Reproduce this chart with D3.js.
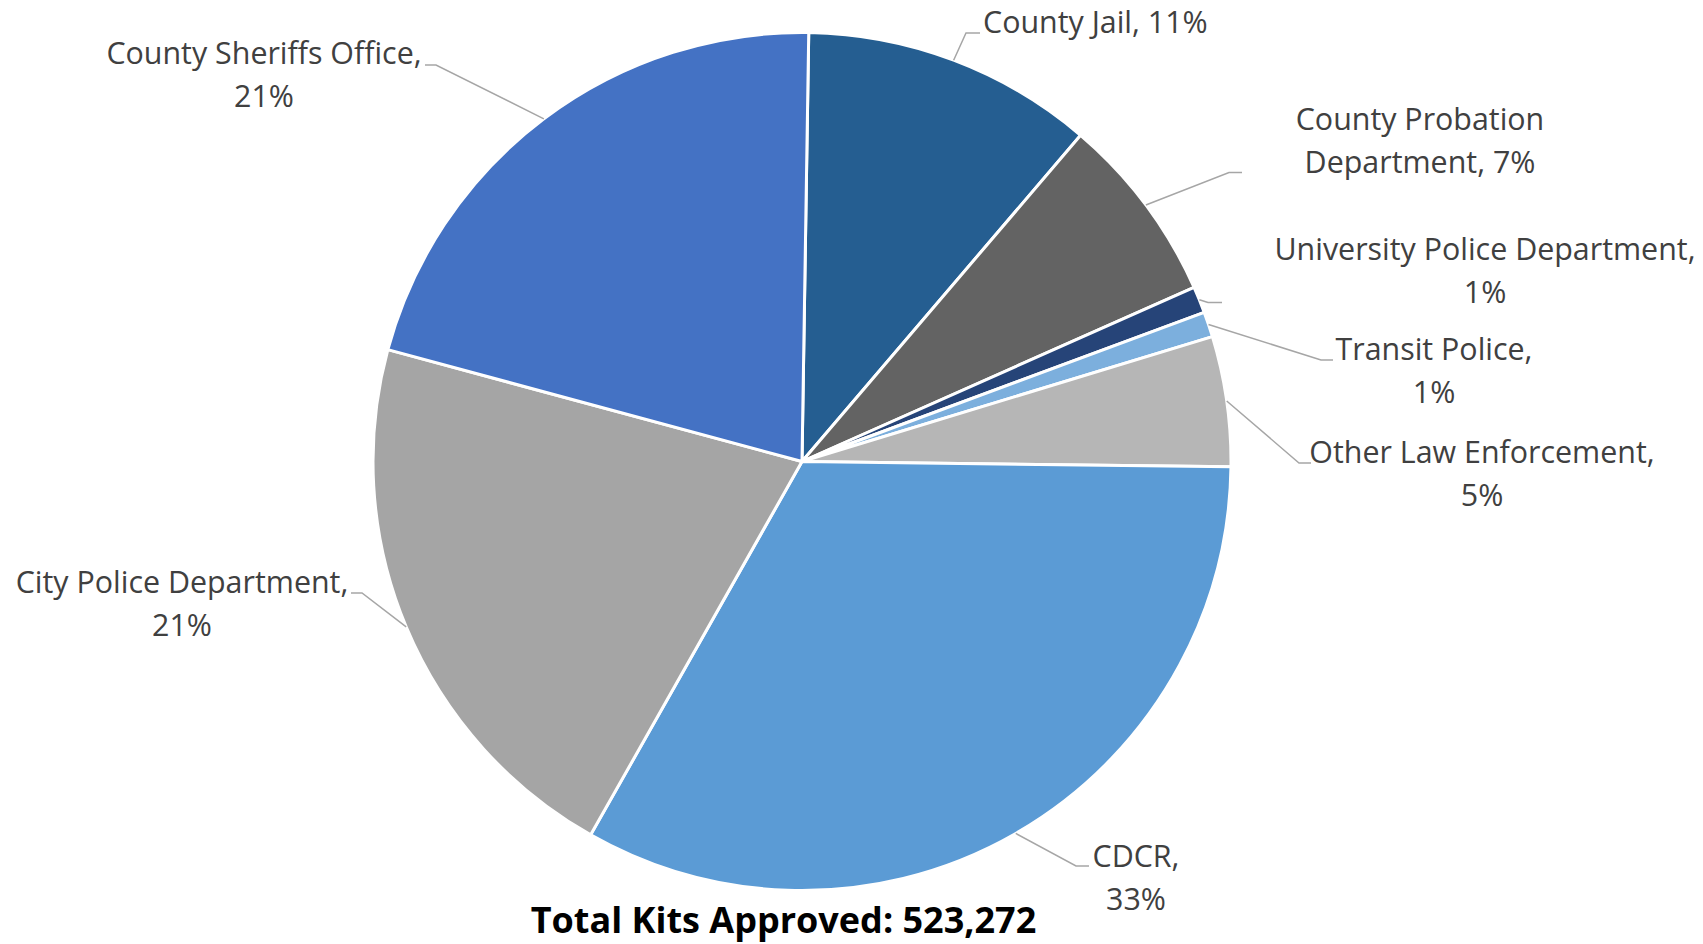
<!DOCTYPE html>
<html>
<head>
<meta charset="utf-8">
<script src="https://cdn.jsdelivr.net/npm/d3@7"></script>
<style>
  html, body { margin: 0; padding: 0; background: #fff; }
  svg { display: block; }
</style>
</head>
<body>
<svg id="chart" width="1703" height="944"></svg>
<script>
// ---- data ----
const categories = [
  "County Jail",
  "County Probation Department",
  "University Police Department",
  "Transit Police",
  "Other Law Enforcement",
  "CDCR",
  "City Police Department",
  "County Sheriffs Office"
];
const kits = [57560, 37150, 5230, 4970, 25640, 172680, 109890, 110152];
const colors = ["#255E91", "#636363", "#264478", "#7CAFDD", "#B6B6B6", "#5B9BD5", "#A5A5A5", "#4472C4"];
// label text lines (category part), percentage appended from data
const labelLines = [
  ["County Jail, {p}"],
  ["County Probation", "Department, {p}"],
  ["University Police Department,", "{p}"],
  ["Transit Police,", "{p}"],
  ["Other Law Enforcement,", "{p}"],
  ["CDCR,", "{p}"],
  ["City Police Department,", "{p}"],
  ["County Sheriffs Office,", "{p}"]
];
const totalLabel = "Total Kits Approved: ";

// ---- layout (relative to pie centre) ----
const cx = 802, cy = 461.5, R = 429;
const startDeg = 0.9;
// tx,ty: text anchor / first baseline; ex,ey: elbow; hx: end of horizontal leader
const labelLayout = [
  {anchor: "start",  tx: 181,  ty: -428.5, ex: 164,  ey: -428.5, hx: 178},
  {anchor: "middle", tx: 618,  ty: -331.5, ex: 427,  ey: -289,   hx: 440},
  {anchor: "middle", tx: 683,  ty: -201.5, ex: 406,  ey: -159,   hx: 420},
  {anchor: "middle", tx: 632,  ty: -101.5, ex: 519,  ey: -101.5, hx: 531},
  {anchor: "middle", tx: 680,  ty: 1.5,    ex: 497,  ey: 1.5,    hx: 509},
  {anchor: "middle", tx: 334,  ty: 405.5,  ex: 274,  ey: 404.5,  hx: 287},
  {anchor: "middle", tx: -620, ty: 131.5,  ex: -440, ey: 131.5,  hx: -451},
  {anchor: "middle", tx: -538, ty: -397.5, ex: -366, ey: -396.5, hx: -377}
];
const lineGap = 42.5;

const svg = d3.select("#chart");
const total = d3.sum(kits);
const data = categories.map((c, i) => ({cat: c, value: kits[i], i}));

const pie = d3.pie().value(d => d.value).sort(null)
  .startAngle(startDeg * Math.PI / 180)
  .endAngle(startDeg * Math.PI / 180 + 2 * Math.PI);
const arcs = pie(data);
const arc = d3.arc().innerRadius(0).outerRadius(R);
const edge = d3.arc().innerRadius(R).outerRadius(R);

const g = svg.append("g").attr("transform", `translate(${cx},${cy})`);
g.selectAll("path.slice").data(arcs).join("path")
  .attr("class", "slice")
  .attr("d", arc)
  .attr("fill", d => colors[d.data.i])
  .attr("stroke", "#fff")
  .attr("stroke-width", 3)
  .attr("stroke-linejoin", "round");

// leader lines
const fmtPct = v => Math.round(v / total * 100) + "%";
g.selectAll("path.leader").data(arcs).join("path")
  .attr("class", "leader")
  .attr("fill", "none")
  .attr("stroke", "#A6A6A6")
  .attr("stroke-width", 1.5)
  .attr("d", d => {
    const L = labelLayout[d.data.i];
    const p = edge.centroid(d);
    return d3.line()([p, [L.ex, L.ey], [L.hx, L.ey]]);
  });

// labels
const lbl = g.selectAll("text.lbl").data(arcs).join("text")
  .attr("class", "lbl")
  .attr("font-family", "'Open Sans', 'Noto Sans', sans-serif")
  .attr("font-size", 30.4)
  .attr("fill", "#404040")
  .attr("text-anchor", d => labelLayout[d.data.i].anchor);
lbl.each(function(d) {
  const L = labelLayout[d.data.i];
  const t = d3.select(this);
  labelLines[d.data.i].forEach((ln, k) => {
    t.append("tspan")
      .attr("x", L.tx)
      .attr("y", L.ty + k * lineGap)
      .text(ln.replace("{p}", fmtPct(d.data.value)));
  });
});

// total title
svg.append("text")
  .attr("x", 783.5)
  .attr("y", 933)
  .attr("text-anchor", "middle")
  .attr("font-family", "'Open Sans', 'Noto Sans', sans-serif")
  .attr("font-weight", "bold")
  .attr("font-size", 36)
  .attr("fill", "#000")
  .text(totalLabel + d3.format(",")(total));
</script>
</body>
</html>
